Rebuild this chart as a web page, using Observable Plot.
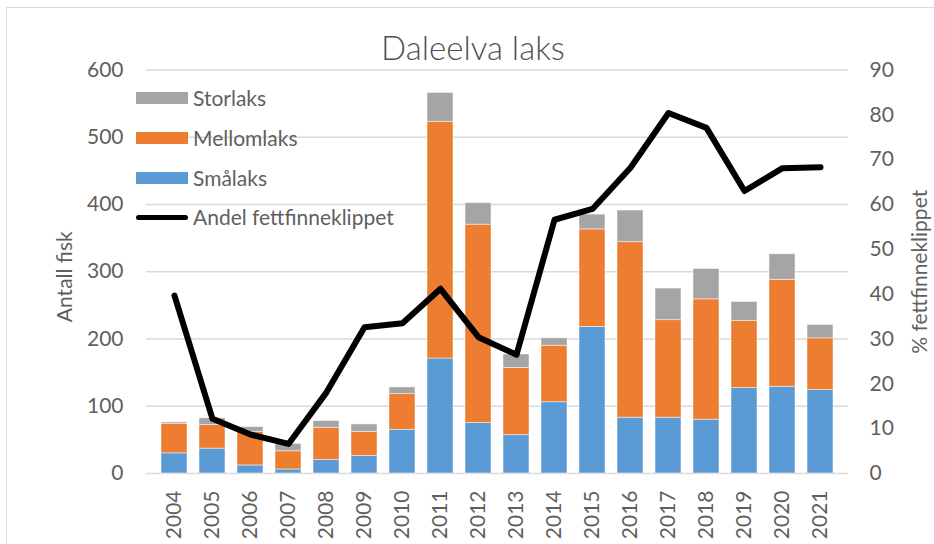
<!DOCTYPE html>
<html>
<head>
<meta charset="utf-8">
<script src="https://cdn.jsdelivr.net/npm/d3@7"></script>
<script src="https://cdn.jsdelivr.net/npm/@observablehq/plot@0.6"></script>
<style>
  html, body { margin: 0; padding: 0; background: #fff; }
  #wrap { position: relative; width: 934px; height: 544px; overflow: hidden; font-family: Lato, sans-serif; font-weight: 400; color: #5f5f5f; }
  #wrap svg { position: absolute; left: 0; top: 0; }
  #border { position: absolute; left: 6px; top: 7px; width: 940px; height: 560px; border: 1px solid #d9d9d9; box-sizing: border-box; }
  #title { position: absolute; left: 0; width: 946px; top: 27px; text-align: center; font-size: 33px; line-height: 40px; font-weight: 300; color: #505050; }
  .leg { position: absolute; left: 136px; font-size: 21px; line-height: 24px; }
  .sw { position: absolute; left: 0; width: 52px; }
  .lt { position: absolute; left: 57px; white-space: nowrap; }
</style>
</head>
<body>
<div id="wrap">
  <div id="border"></div>
  <div id="chart"></div>
  <div id="title">Daleelva laks</div>
  <div id="legend"></div>
</div>
<script>
const years = ["2004","2005","2006","2007","2008","2009","2010","2011","2012","2013","2014","2015","2016","2017","2018","2019","2020","2021"];
const smalaks    = [30, 37, 12,  6, 20, 26, 65, 171,  75,  57, 106, 218,  83,  83,  80, 127, 129, 124];
const mellomlaks = [44, 35, 50, 27, 48, 36, 53, 352, 295, 100,  84, 145, 261, 145, 179, 100, 159,  77];
const storlaks   = [ 2, 10,  7, 11, 10, 11, 10,  43,  32,  20,  11,  22,  47,  47,  45,  28,  38,  20];
const andel      = [39.7, 12.2, 8.7, 6.6, 18.1, 32.6, 33.5, 41.2, 30.4, 26.5, 56.6, 59.0, 68.2, 80.4, 77.1, 63.0, 68.1, 68.3];

const seriesNames = ["Smålaks", "Mellomlaks", "Storlaks"];
const seriesColors = ["#5b9bd5", "#ed7d31", "#a5a5a5"];
const leftTicks = [0, 100, 200, 300, 400, 500, 600];
const rightTicks = [0, 10, 20, 30, 40, 50, 60, 70, 80, 90];
const yMax = 600, pMax = 90;
const toY = p => p * yMax / pMax;

const bars = [];
years.forEach((yr, i) => {
  bars.push({year: yr, type: "Smålaks", value: smalaks[i]});
  bars.push({year: yr, type: "Mellomlaks", value: mellomlaks[i]});
  bars.push({year: yr, type: "Storlaks", value: storlaks[i]});
});
const lineData = years.map((yr, i) => ({year: yr, pct: andel[i]}));

const chart = Plot.plot({
  width: 934,
  height: 544,
  marginLeft: 146,
  marginRight: 86,
  marginTop: 69.5,
  marginBottom: 71,
  x: {domain: years, padding: 0.31, label: null},
  y: {domain: [0, yMax], label: null},
  color: {domain: seriesNames, range: seriesColors},
  style: {fontFamily: "Lato, sans-serif", fontSize: "21px", color: "#5f5f5f", background: "transparent"},
  marks: [
    Plot.gridY(leftTicks, {stroke: "#d9d9d9", strokeOpacity: 1, strokeWidth: 1.5}),
    Plot.axisY({ticks: leftTicks, anchor: "left", tickSize: 0, tickPadding: 23, label: null}),
    Plot.axisY({ticks: rightTicks.map(toY), tickFormat: d => Math.round(d * pMax / yMax), anchor: "right", tickSize: 0, tickPadding: 21, label: null}),
    Plot.axisX({tickRotate: -90, tickSize: 0, tickPadding: 17, label: null}),
    Plot.barY(bars, {x: "year", y: "value", fill: "type", stroke: "#ffffff", strokeWidth: 0.8, strokeOpacity: 0.6}),
    Plot.line(lineData, {x: "year", y: d => toY(d.pct), stroke: "#000", strokeWidth: 6, strokeLinejoin: "round", strokeLinecap: "round"}),
    Plot.text(["Antall fisk"], {frameAnchor: "left", textAnchor: "middle", dx: -81, dy: 5, rotate: -90, fontSize: 21, fill: "currentColor"}),
    Plot.text(["% fettfinneklippet"], {frameAnchor: "right", textAnchor: "middle", dx: 72, rotate: -90, fontSize: 21, fill: "currentColor"})
  ]
});
document.getElementById("chart").appendChild(chart);

// legend (HTML overlay)
const legendItems = [
  {label: "Storlaks", color: seriesColors[2], kind: "box", cy: 98},
  {label: "Mellomlaks", color: seriesColors[1], kind: "box", cy: 138},
  {label: "Smålaks", color: seriesColors[0], kind: "box", cy: 178},
  {label: "Andel fettfinneklippet", color: "#000", kind: "line", cy: 217}
];
const leg = document.getElementById("legend");
legendItems.forEach(it => {
  const row = document.createElement("div");
  row.className = "leg";
  row.style.top = (it.cy - 12) + "px";
  const sw = document.createElement("div");
  sw.className = "sw";
  if (it.kind === "box") {
    sw.style.top = "5.7px"; sw.style.height = "12.6px"; sw.style.background = it.color;
  } else {
    sw.style.top = "9.5px"; sw.style.height = "5px"; sw.style.background = it.color; sw.style.borderRadius = "3px";
  }
  const t = document.createElement("div");
  t.className = "lt";
  t.textContent = it.label;
  row.appendChild(sw); row.appendChild(t);
  leg.appendChild(row);
});
</script>
</body>
</html>
